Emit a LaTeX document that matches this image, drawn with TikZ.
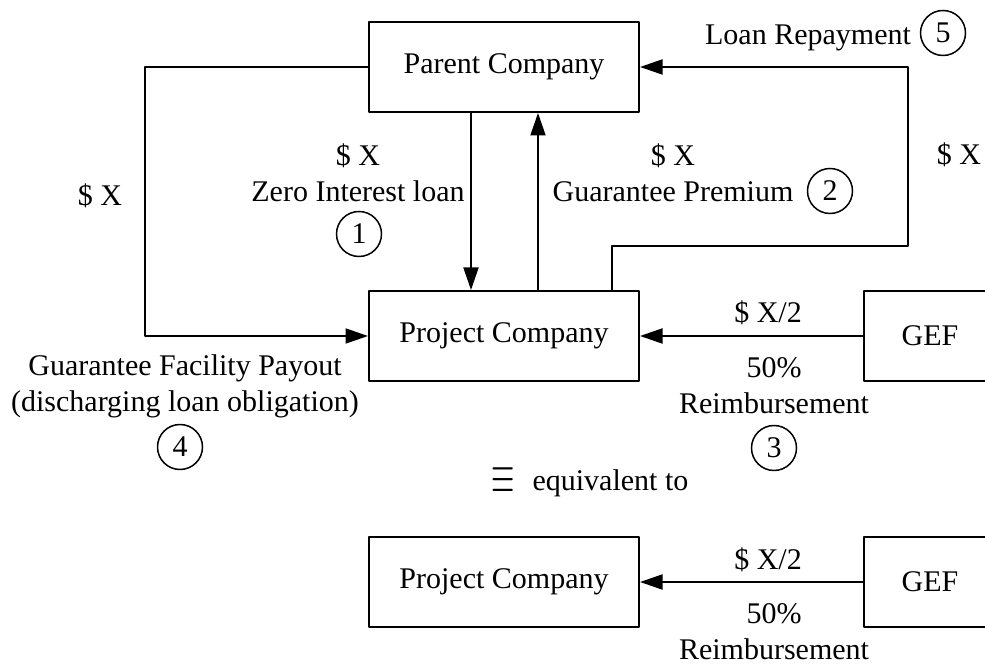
\documentclass[tikz,border=0pt]{standalone}
\usepackage{fontspec}
\usepackage{graphicx}
\setmainfont{Liberation Serif}
\usetikzlibrary{arrows.meta,positioning}

\begin{document}
\begin{tikzpicture}[x=0.4pt,y=-0.4pt,line join=round,font=\fontsize{12}{14.4}\selectfont,
  blk/.style={draw,line width=0.8pt,minimum width=108pt,minimum height=36pt,inner sep=0pt},
  num/.style={draw,circle,line width=0.6pt,minimum size=18pt,inner sep=0pt},
  flow/.style={line width=0.75pt,-{Triangle[length=9pt,width=6pt]}},
  lbl/.style={align=center,inner sep=0pt}]
  \useasboundingbox (0,0) rectangle (985,664);
  % upper scheme
  \node[blk] (parent) at (504,67) {Parent Company};
  \node[blk] (proj) at (504,336) {Project Company};
  \node[blk,minimum width=52.8pt] (gef) at (930,336) {GEF};
  \coordinate (dn) at (471,0); \coordinate (up) at (538,0); \coordinate (rl) at (612,246); \coordinate (rr) at (908,246);
  \draw[flow] (parent.south -| dn) -- (proj.north -| dn);
  \draw[flow] (proj.north -| up) -- (parent.south -| up);
  \draw[flow] (parent.west) -- ++(-223,0) |- (proj.west);
  \draw[flow] (proj.north -| rl) -- (rl) -- (rr) |- (parent.east);
  \draw[flow] (gef.west) -- (proj.east);
  \node (xl) at (100,196) {\$ X};
  \node[lbl] (zil) at (358,173) {\$ X\\Zero Interest loan};
  \node[num] (n1) at (359,234) {1};
  \node[lbl] (gp) at (673,173) {\$ X\\Guarantee Premium};
  \node[num] (n2) at (830,191) {2};
  \node (xr) at (959,155) {\$ X};
  \node (lr) at (808,38) {Loan Repayment};
  \node[num] (n5) at (943,33) {5};
  \node (x2) at (768,313) {\$ X/2};
  \node[lbl] (reim) at (774,386) {50\%\\Reimbursement};
  \node[num] (n3) at (774,448) {3};
  \node[lbl] (gfp) at (185,386) {Guarantee Facility Payout\\(discharging loan obligation)};
  \node[num] (n4) at (180,447) {4};
  \node (eq) at (590,482) {\raisebox{-1.2pt}{\scalebox{1}[1.85]{$\equiv$}}\hspace{7pt}equivalent to};
  % lower scheme
  \node[blk] (proj2) at (504,582) {Project Company};
  \node[blk,minimum width=52.8pt] (gef2) at (930,582) {GEF};
  \draw[flow] (gef2.west) -- (proj2.east);
  \node (x2b) at (768,560) {\$ X/2};
  \node[lbl] (reimb) at (774,632) {50\%\\Reimbursement};
\end{tikzpicture}
\end{document}
